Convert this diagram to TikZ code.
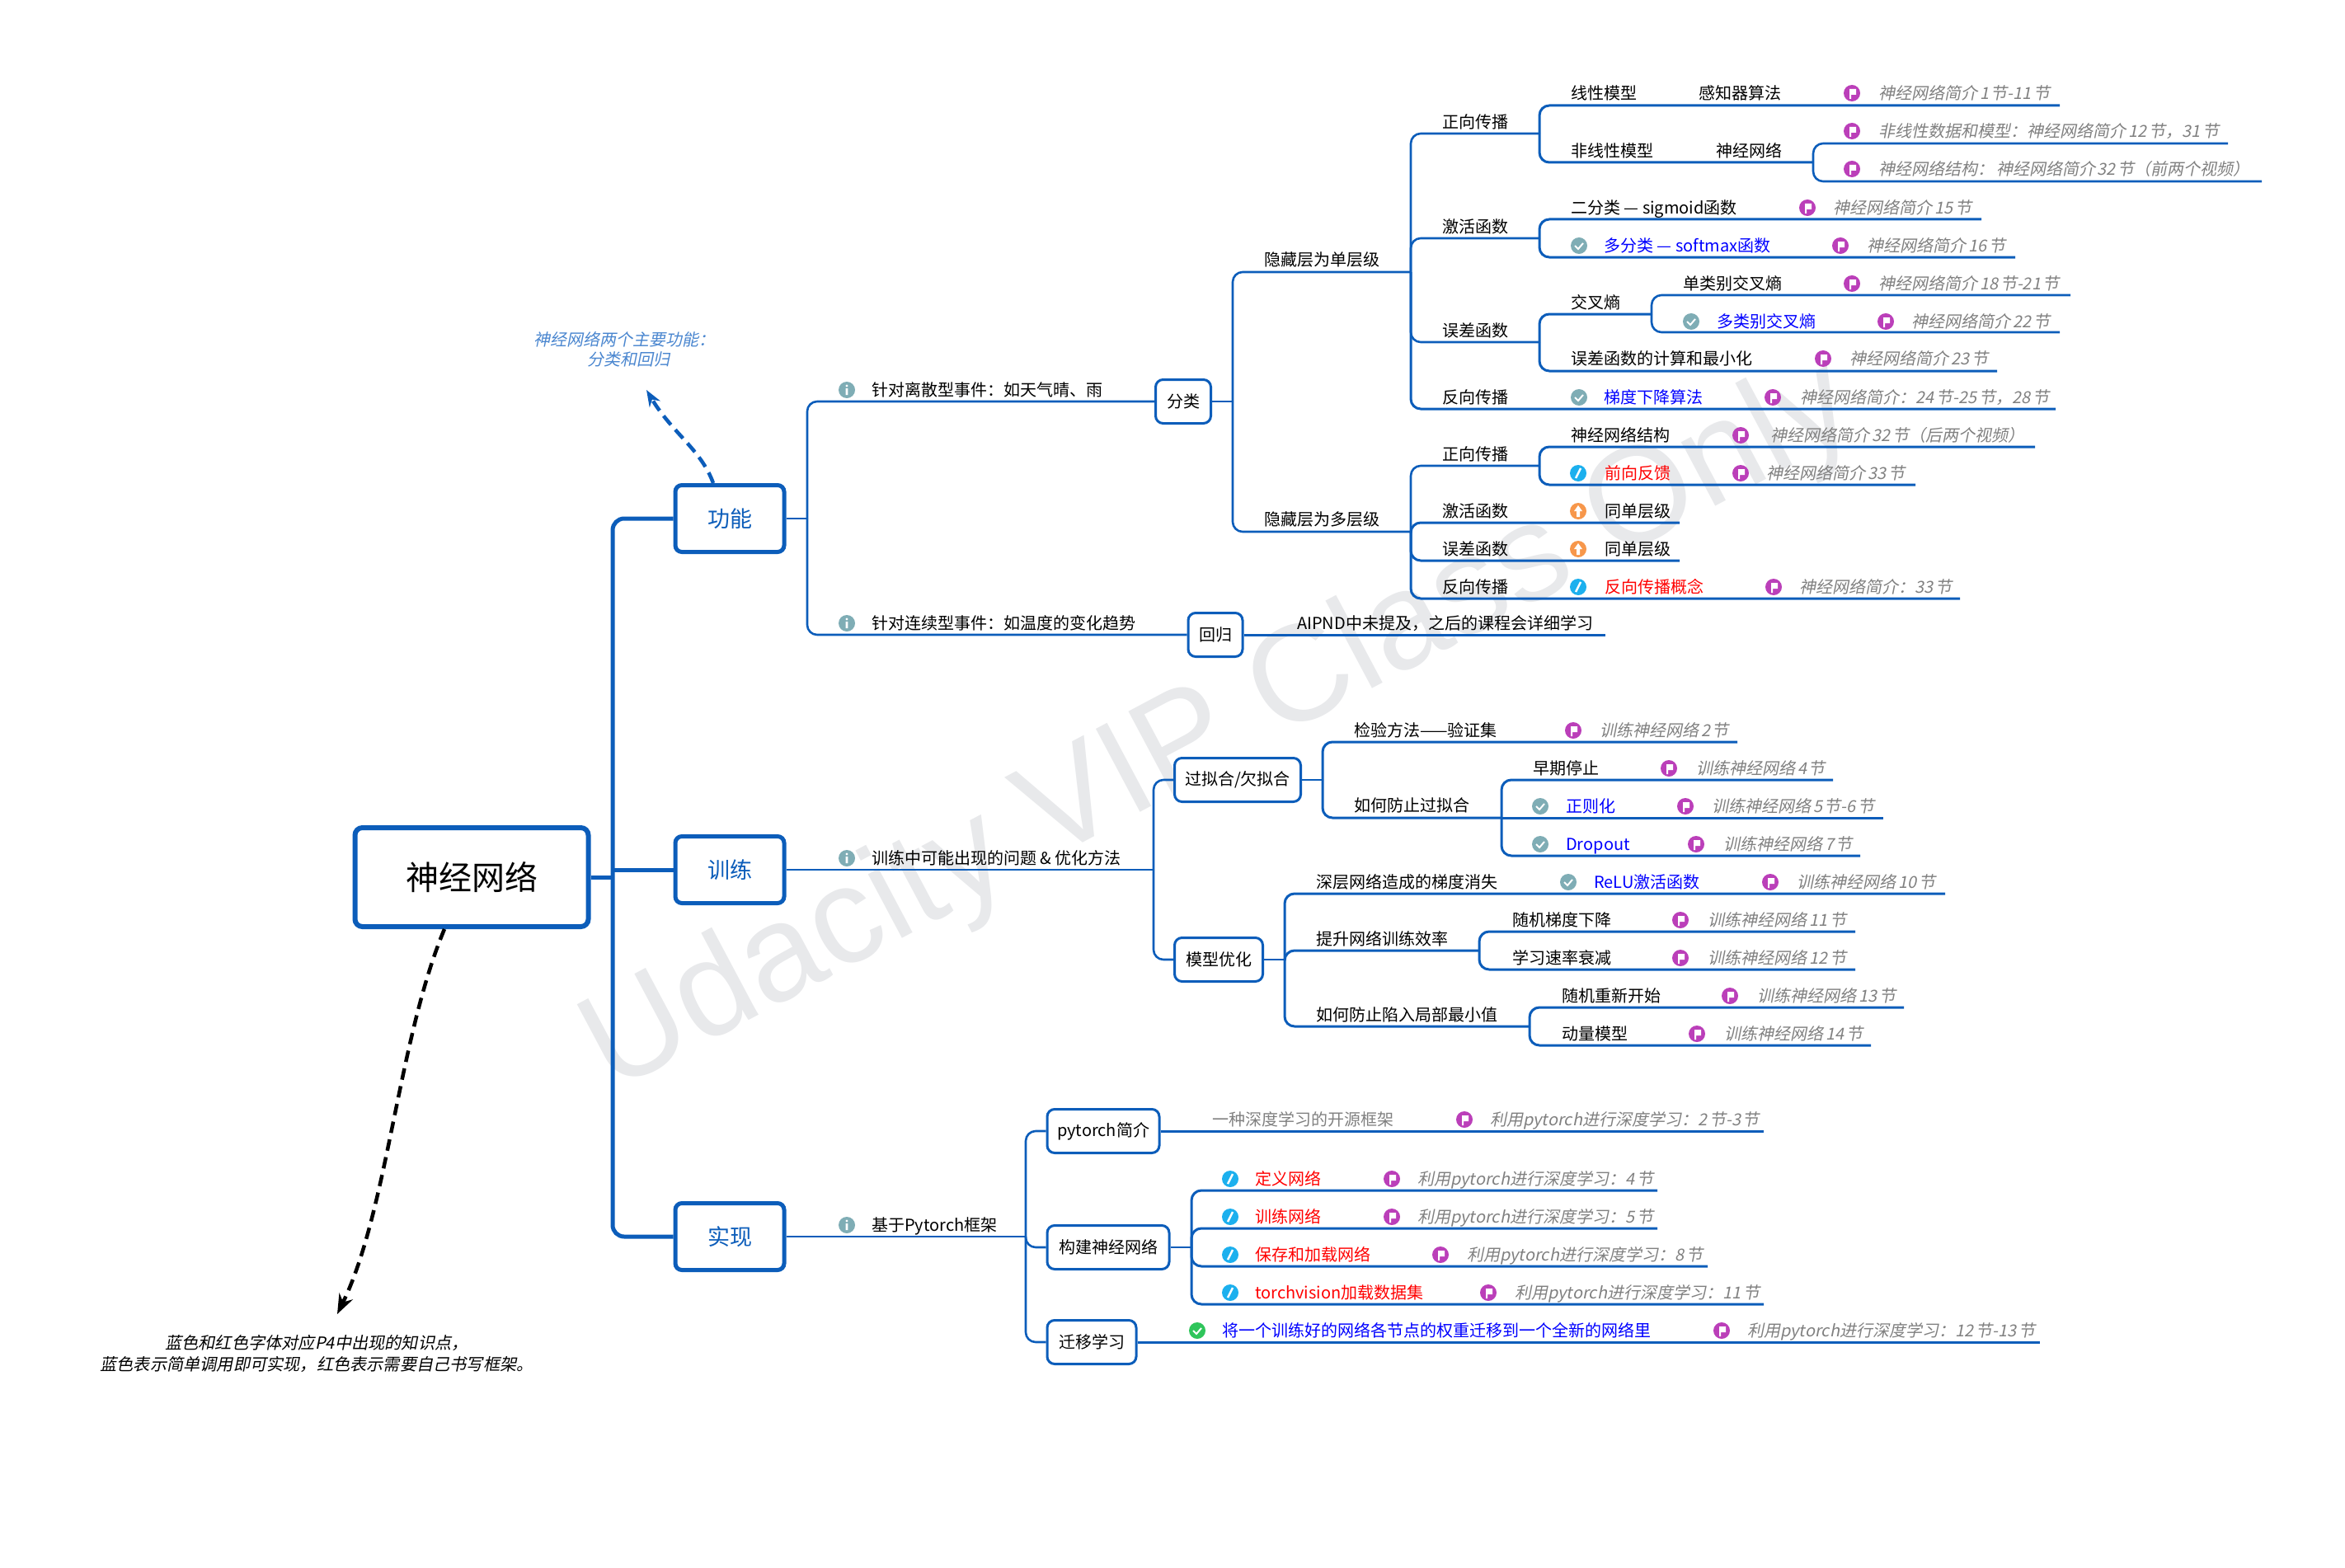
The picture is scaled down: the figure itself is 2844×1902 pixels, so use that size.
\documentclass[tikz,border=0pt]{standalone}
\usepackage{fontspec}
\setmainfont{Noto Sans CJK SC}
\newfontfamily\slantfont[FakeSlant=0.2]{Noto Sans CJK SC}
\newfontfamily\markfont{Liberation Sans}
\usetikzlibrary{arrows.meta}
\definecolor{mapblue}{HTML}{0C5DBA}
\definecolor{noteblue}{HTML}{4A86CF}
\definecolor{flagc}{HTML}{BB3FB9}
\definecolor{tealc}{HTML}{7FADB5}
\definecolor{penc}{HTML}{1CB0EE}
\definecolor{upc}{HTML}{F7974B}
\definecolor{okc}{HTML}{2FC55B}
\definecolor{markc}{HTML}{E8E9EB}
\newcommand{\reffont}{\slantfont\fontsize{20}{24}\selectfont\spaceskip 2.8pt\relax}

\begin{document}
\begin{tikzpicture}[x=1pt,y=-1pt]
        \tikzstyle{leaf} = [anchor=west, inner sep=0, text height=17.6pt, text depth=2.4pt, font=\fontsize{20}{24}\selectfont]
        \tikzstyle{blueleaf} = [leaf, text=blue]
        \tikzstyle{redleaf} = [leaf, text=red]
        \tikzstyle{plainref} = [leaf, text=black!50]
        \tikzstyle{ref} = [leaf, text=black!50, font=\reffont]
        \tikzstyle{rootbox} = [draw=mapblue, line width=6pt, fill=white, rounded corners=9pt, minimum width=283pt, minimum height=120pt, font=\fontsize{40}{48}\selectfont]
        \tikzstyle{mainbox} = [draw=mapblue, line width=5pt, fill=white, rounded corners=8pt, minimum width=132pt, minimum height=81pt, text=mapblue, font=\fontsize{27}{32}\selectfont]
        \tikzstyle{subbox} = [draw=mapblue, line width=3pt, fill=white, rounded corners=9pt, minimum height=53pt, inner sep=0, font=\fontsize{20}{24}\selectfont]
        \tikzstyle{icon} = [circle, inner sep=0, minimum size=20pt]
        \tikzstyle{flagicon} = [icon, fill=flagc, path picture={\fill[white, shift={(path picture bounding box.center)}] (-3,7) -- (-3,-5) -- (5,-5) -- (5,2) -- (-1,2) -- (-1,7) -- cycle;}]
        \tikzstyle{checkicon} = [icon, fill=tealc, path picture={\draw[white, line width=2pt, shift={(path picture bounding box.center)}] (-5,0) -- (-1,4) -- (5,-3);}]
        \tikzstyle{okicon} = [icon, fill=okc, path picture={\draw[white, line width=2pt, shift={(path picture bounding box.center)}] (-5,0) -- (-1,4) -- (5,-3);}]
        \tikzstyle{penicon} = [icon, fill=penc, path picture={\draw[white, line width=2.5pt, shift={(path picture bounding box.center)}] (-3,6) -- (3,-6);}]
        \tikzstyle{upicon} = [icon, fill=upc, path picture={\fill[white, shift={(path picture bounding box.center)}] (0,-7) -- (5,0) -- (2,0) -- (2,7) -- (-2,7) -- (-2,0) -- (-5,0) -- cycle;}]
        \tikzstyle{infoicon} = [icon, fill=tealc, path picture={\fill[white, shift={(path picture bounding box.center)}] (0,-5) circle (1.6) (-1.4,-2) rectangle (1.4,6);}]
        \tikzstyle{trunk} = [draw=mapblue, line width=5pt, rounded corners=14pt]
        \tikzstyle{limb} = [draw=mapblue, line width=2.6pt, rounded corners=12pt]
        \tikzstyle{twig} = [draw=mapblue, line width=3pt, rounded corners=12pt]
        \tikzstyle{longdash} = [line width=4.5pt, dash pattern=on 14pt off 8pt]

        \useasboundingbox (0,0) rectangle (2844,1902);

        \node[text=markc, rotate=28, font=\markfont\fontsize{166}{166}\selectfont](wmark) at(1480,885) {Udacity VIP Class Only};

        % root and the three main topics
        \node[rootbox](root) at(572,1064) {神经网络};
        \node[mainbox](func) at(885,629) {功能};
        \node[mainbox](train) at(885,1055) {训练};
        \node[mainbox](impl) at(885,1500) {实现};
        \coordinate(rootj) at(743,1064);
        \draw[trunk] (root) -- (rootj);
        \draw[trunk] (func) -| (rootj) |- (impl);
        \draw[trunk] (train) -- (train -| rootj);

        % notes
        \node[font=\slantfont\fontsize{20}{24}\selectfont, text=noteblue, align=center](funcnote) at(757,424) {神经网络两个主要功能：\\\hspace*{10pt}分类和回归};
        \coordinate(notetip) at(784,473);
        \draw[longdash, draw=mapblue, -{Stealth[length=20pt,width=15pt]}] ([xshift=-20pt]func.north) .. controls (850,545) and (815,525) .. (notetip);
        \node[font=\slantfont\fontsize{20.2}{26}\selectfont, align=center](colornote) at(384,1642) {蓝色和红色字体对应P4中出现的知识点，\\蓝色表示简单调用即可实现，红色表示需要自己书写框架。};
        \coordinate(rootnote) at(409,1594);
        \draw[longdash, -{Stealth[length=24pt,width=18pt]}] ([xshift=-33pt]root.south) .. controls (483,1260) and (470,1470) .. (rootnote);

        % function: classification and regression
        \coordinate(funcj) at(979,629);
        \draw[limb] (func) -- (funcj);
        \node[infoicon](info1) at(1027,473) {};
        \node[leaf](ev1) at(1057,473) {针对离散型事件：如天气晴、雨};
        \node[infoicon](info2) at(1027,756) {};
        \node[leaf](ev2) at(1057,756) {针对连续型事件：如温度的变化趋势};
        \node[subbox, minimum width=67pt](cls) at(1435,487) {分类};
        \node[subbox, minimum width=66pt](reg) at(1474,770) {回归};
        \draw[limb] (funcj) |- (cls);
        \draw[limb] (funcj) |- (reg);
        \coordinate(rege) at(1947,770);
        \draw[twig] (reg) -- (rege);
        \node[leaf](regtxt) at(1573,756) {AIPND中未提及，之后的课程会详细学习};

        \coordinate(clsj) at(1495,487);
        \coordinate(hid1j) at(1711,330);
        \coordinate(hid2j) at(1711,645);
        \draw[limb] (cls) -- (clsj);
        \draw[limb] (clsj) |- (hid1j);
        \draw[limb] (clsj) |- (hid2j);
        \node[leaf](hid1) at(1533,315) {隐藏层为单层级};
        \node[leaf](hid2) at(1533,630) {隐藏层为多层级};

        % single hidden layer
        \coordinate(fwd1j) at(1867,162);
        \coordinate(act1j) at(1867,289);
        \coordinate(err1j) at(1867,415);
        \coordinate(back1e) at(2493,496);
        \draw[limb] (hid1j) |- (fwd1j);
        \draw[limb] (hid1j) |- (act1j);
        \draw[limb] (hid1j) |- (err1j);
        \draw[twig] (hid1j) |- (back1e);
        \node[leaf](fwd1) at(1749,148) {正向传播};
        \node[leaf](act1) at(1749,275) {激活函数};
        \node[leaf](err1) at(1749,401) {误差函数};
        \node[leaf](back1) at(1749,482) {反向传播};
        \node[checkicon](back1c) at(1915,482) {};
        \node[blueleaf](back1t) at(1945,482) {梯度下降算法};
        \node[flagicon](back1f) at(2150,482) {};
        \node[ref](back1r) at(2183,482) {神经网络简介：24 节-25 节，28 节};

        \coordinate(line1e) at(2498,128);
        \coordinate(nonj) at(2199,197);
        \draw[twig] (fwd1j) |- (line1e);
        \draw[twig] (fwd1j) |- (nonj);
        \node[leaf](line1) at(1905,113) {线性模型};
        \node[leaf](line2) at(2060,113) {感知器算法};
        \node[flagicon](line1f) at(2246,113) {};
        \node[ref](line1r) at(2278,113) {神经网络简介 1 节-11 节};
        \node[leaf](non1) at(1905,183) {非线性模型};
        \node[leaf](non2) at(2081,183) {神经网络};
        \coordinate(non1e) at(2702,174);
        \coordinate(non2e) at(2743,220);
        \draw[limb] (nonj) |- (non1e);
        \draw[limb] (nonj) |- (non2e);
        \node[flagicon](non1f) at(2246,159) {};
        \node[ref](non1r) at(2278,159) {非线性数据和模型：神经网络简介 12 节，31 节};
        \node[flagicon](non2f) at(2246,205) {};
        \node[ref](non2r) at(2278,205) {神经网络结构： 神经网络简介 32 节（前两个视频）};

        \coordinate(act1e) at(2403,266);
        \coordinate(act2e) at(2444,312);
        \draw[twig] (act1j) |- (act1e);
        \draw[twig] (act1j) |- (act2e);
        \node[leaf](sig) at(1905,252) {二分类 — sigmoid函数};
        \node[flagicon](sigf) at(2192,252) {};
        \node[ref](sigr) at(2223,252) {神经网络简介 15 节};
        \node[checkicon](softc) at(1915,298) {};
        \node[blueleaf](soft) at(1945,298) {多分类 — softmax函数};
        \node[flagicon](softf) at(2232,298) {};
        \node[ref](softr) at(2264,298) {神经网络简介 16 节};

        \coordinate(crossj) at(2003,381);
        \coordinate(mine) at(2422,450);
        \draw[twig] (err1j) |- (crossj);
        \draw[twig] (err1j) |- (mine);
        \node[leaf](cross) at(1905,367) {交叉熵};
        \node[leaf](mint) at(1905,435) {误差函数的计算和最小化};
        \node[flagicon](minf) at(2211,435) {};
        \node[ref](minr) at(2243,435) {神经网络简介 23 节};
        \coordinate(cross1e) at(2511,358);
        \coordinate(cross2e) at(2498,403);
        \draw[limb] (crossj) |- (cross1e);
        \draw[limb] (crossj) |- (cross2e);
        \node[leaf](cross1) at(2041,344) {单类别交叉熵};
        \node[flagicon](cross1f) at(2246,344) {};
        \node[ref](cross1r) at(2278,344) {神经网络简介 18 节-21 节};
        \node[checkicon](cross2c) at(2051,390) {};
        \node[blueleaf](cross2) at(2082,390) {多类别交叉熵};
        \node[flagicon](cross2f) at(2287,390) {};
        \node[ref](cross2r) at(2318,390) {神经网络简介 22 节};

        % several hidden layers
        \coordinate(fwd2j) at(1867,565);
        \coordinate(act3e) at(2037,634);
        \coordinate(err3e) at(2037,680);
        \coordinate(back2e) at(2377,726);
        \draw[limb] (hid2j) |- (fwd2j);
        \draw[twig] (hid2j) |- (act3e);
        \draw[twig] (hid2j) |- (err3e);
        \draw[twig] (hid2j) |- (back2e);
        \node[leaf](fwd2) at(1749,551) {正向传播};
        \node[leaf](act3) at(1749,620) {激活函数};
        \node[upicon](act3u) at(1914,620) {};
        \node[leaf](act3t) at(1946,620) {同单层级};
        \node[leaf](err3) at(1749,666) {误差函数};
        \node[upicon](err3u) at(1914,666) {};
        \node[leaf](err3t) at(1946,666) {同单层级};
        \node[leaf](back2) at(1749,712) {反向传播};
        \node[penicon](back2p) at(1914,712) {};
        \node[redleaf](back2t) at(1946,712) {反向传播概念};
        \node[flagicon](back2f) at(2151,712) {};
        \node[ref](back2r) at(2182,712) {神经网络简介：33 节};
        \coordinate(struct1e) at(2468,542);
        \coordinate(struct2e) at(2323,588);
        \draw[twig] (fwd2j) |- (struct1e);
        \draw[twig] (fwd2j) |- (struct2e);
        \node[leaf](struct1) at(1905,528) {神经网络结构};
        \node[flagicon](struct1f) at(2111,528) {};
        \node[ref](struct1r) at(2147,528) {神经网络简介 32 节（后两个视频）};
        \node[penicon](struct2p) at(1914,574) {};
        \node[redleaf](struct2) at(1946,574) {前向反馈};
        \node[flagicon](struct2f) at(2111,574) {};
        \node[ref](struct2r) at(2142,574) {神经网络简介 33 节};

        % training
        \coordinate(trainj) at(1399,1055);
        \draw[limb] (train) -- (trainj);
        \node[infoicon](info3) at(1027,1041) {};
        \node[leaf](trainq) at(1057,1041) {训练中可能出现的问题 \& 优化方法};
        \node[subbox, minimum width=153pt](over) at(1501,946) {过拟合/欠拟合};
        \node[subbox, minimum width=107pt](opt) at(1478,1164) {模型优化};
        \draw[limb] (trainj) |- (over);
        \draw[limb] (trainj) |- (opt);

        \coordinate(overj) at(1604,946);
        \coordinate(vale) at(2107,900);
        \coordinate(prevj) at(1821,992);
        \draw[limb] (over) -- (overj);
        \draw[twig] (overj) |- (vale);
        \draw[twig] (overj) |- (prevj);
        \node[leaf](val) at(1642,886) {检验方法——验证集};
        \node[flagicon](valf) at(1908,886) {};
        \node[ref](valr) at(1940,886) {训练神经网络 2 节};
        \node[leaf](prev) at(1642,977) {如何防止过拟合};
        \coordinate(stope) at(2223,946);
        \coordinate(rege2) at(2284,992);
        \coordinate(drope) at(2256,1038);
        \draw[twig] (prevj) |- (stope);
        \draw[twig] (prevj) -- (rege2);
        \draw[twig] (prevj) |- (drope);
        \node[leaf](stop) at(1859,932) {早期停止};
        \node[flagicon](stopf) at(2024,932) {};
        \node[ref](stopr) at(2057,932) {训练神经网络 4 节};
        \node[checkicon](normc) at(1868,978) {};
        \node[blueleaf](norm) at(1899,978) {正则化};
        \node[flagicon](normf) at(2044,978) {};
        \node[ref](normr) at(2076,978) {训练神经网络 5 节-6 节};
        \node[checkicon](dropc) at(1868,1024) {};
        \node[blueleaf](drop) at(1899,1024) {Dropout};
        \node[flagicon](dropf) at(2057,1024) {};
        \node[ref](dropr) at(2090,1024) {训练神经网络 7 节};

        \coordinate(optj) at(1558,1164);
        \coordinate(vane) at(2359,1084);
        \coordinate(speedj) at(1794,1153);
        \coordinate(localj) at(1855,1245);
        \draw[limb] (opt) -- (optj);
        \draw[twig] (optj) |- (vane);
        \draw[twig] (optj) |- (speedj);
        \draw[twig] (optj) |- (localj);
        \node[leaf](van) at(1596,1070) {深层网络造成的梯度消失};
        \node[checkicon](relc) at(1902,1070) {};
        \node[blueleaf](rel) at(1933,1070) {ReLU激活函数};
        \node[flagicon](relf) at(2147,1070) {};
        \node[ref](relr) at(2179,1070) {训练神经网络 10 节};
        \node[leaf](speed) at(1596,1139) {提升网络训练效率};
        \node[leaf](local) at(1596,1231) {如何防止陷入局部最小值};
        \coordinate(sgde) at(2250,1130);
        \coordinate(decaye) at(2250,1176);
        \draw[twig] (speedj) |- (sgde);
        \draw[twig] (speedj) |- (decaye);
        \node[leaf](sgd) at(1834,1116) {随机梯度下降};
        \node[flagicon](sgdf) at(2038,1116) {};
        \node[ref](sgdr) at(2071,1116) {训练神经网络 11 节};
        \node[leaf](decay) at(1834,1162) {学习速率衰减};
        \node[flagicon](decayf) at(2038,1162) {};
        \node[ref](decayr) at(2071,1162) {训练神经网络 12 节};
        \coordinate(resete) at(2309,1222);
        \coordinate(mome) at(2269,1268);
        \draw[twig] (localj) |- (resete);
        \draw[twig] (localj) |- (mome);
        \node[leaf](reset) at(1894,1208) {随机重新开始};
        \node[flagicon](resetf) at(2098,1208) {};
        \node[ref](resetr) at(2131,1208) {训练神经网络 13 节};
        \node[leaf](mom) at(1894,1254) {动量模型};
        \node[flagicon](momf) at(2058,1254) {};
        \node[ref](momr) at(2091,1254) {训练神经网络 14 节};

        % implementation
        \coordinate(implj) at(1244,1500);
        \draw[limb] (impl) -- (implj);
        \node[infoicon](info4) at(1027,1486) {};
        \node[leaf](base) at(1057,1486) {基于Pytorch框架};
        \node[subbox, minimum width=136pt](pt) at(1338,1372) {pytorch简介};
        \node[subbox, minimum width=148pt](build) at(1344,1513) {构建神经网络};
        \node[subbox, minimum width=108pt](trans) at(1324,1628) {迁移学习};
        \draw[limb] (implj) |- (pt);
        \draw[limb] (implj) |- (build);
        \draw[limb] (implj) |- (trans);

        \coordinate(pte) at(2139,1372);
        \draw[twig] (pt) -- (pte);
        \node[plainref](ptt) at(1470,1358) {一种深度学习的开源框架};
        \node[flagicon](ptf) at(1776,1358) {};
        \node[ref](ptr) at(1807,1358) {利用pytorch进行深度学习：2 节-3 节};

        \coordinate(buildj) at(1445,1513);
        \coordinate(defe) at(2010,1444);
        \coordinate(fite) at(2010,1490);
        \coordinate(savee) at(2071,1536);
        \coordinate(loade) at(2139,1582);
        \draw[limb] (build) -- (buildj);
        \draw[twig] (buildj) |- (defe);
        \draw[twig] (buildj) |- (fite);
        \draw[twig] (buildj) |- (savee);
        \draw[twig] (buildj) |- (loade);
        \node[penicon](defp) at(1492,1430) {};
        \node[redleaf](def) at(1522,1430) {定义网络};
        \node[flagicon](deff) at(1688,1430) {};
        \node[ref](defr) at(1719,1430) {利用pytorch进行深度学习：4 节};
        \node[penicon](fitp) at(1492,1476) {};
        \node[redleaf](fit) at(1522,1476) {训练网络};
        \node[flagicon](fitf) at(1688,1476) {};
        \node[ref](fitr) at(1719,1476) {利用pytorch进行深度学习：5 节};
        \node[penicon](savep) at(1492,1522) {};
        \node[redleaf](save) at(1522,1522) {保存和加载网络};
        \node[flagicon](savef) at(1747,1522) {};
        \node[ref](saver) at(1779,1522) {利用pytorch进行深度学习：8 节};
        \node[penicon](loadp) at(1492,1568) {};
        \node[redleaf](load) at(1522,1568) {torchvision加载数据集};
        \node[flagicon](loadf) at(1805,1568) {};
        \node[ref](loadr) at(1837,1568) {利用pytorch进行深度学习：11 节};

        \coordinate(transe) at(2474,1628);
        \draw[twig] (trans) -- (transe);
        \node[okicon](transo) at(1452,1614) {};
        \node[blueleaf](transt) at(1482,1614) {将一个训练好的网络各节点的权重迁移到一个全新的网络里};
        \node[flagicon](transf) at(2088,1614) {};
        \node[ref](transr) at(2119,1614) {利用pytorch进行深度学习：12 节-13 节};
    \end{tikzpicture}
\end{document}
